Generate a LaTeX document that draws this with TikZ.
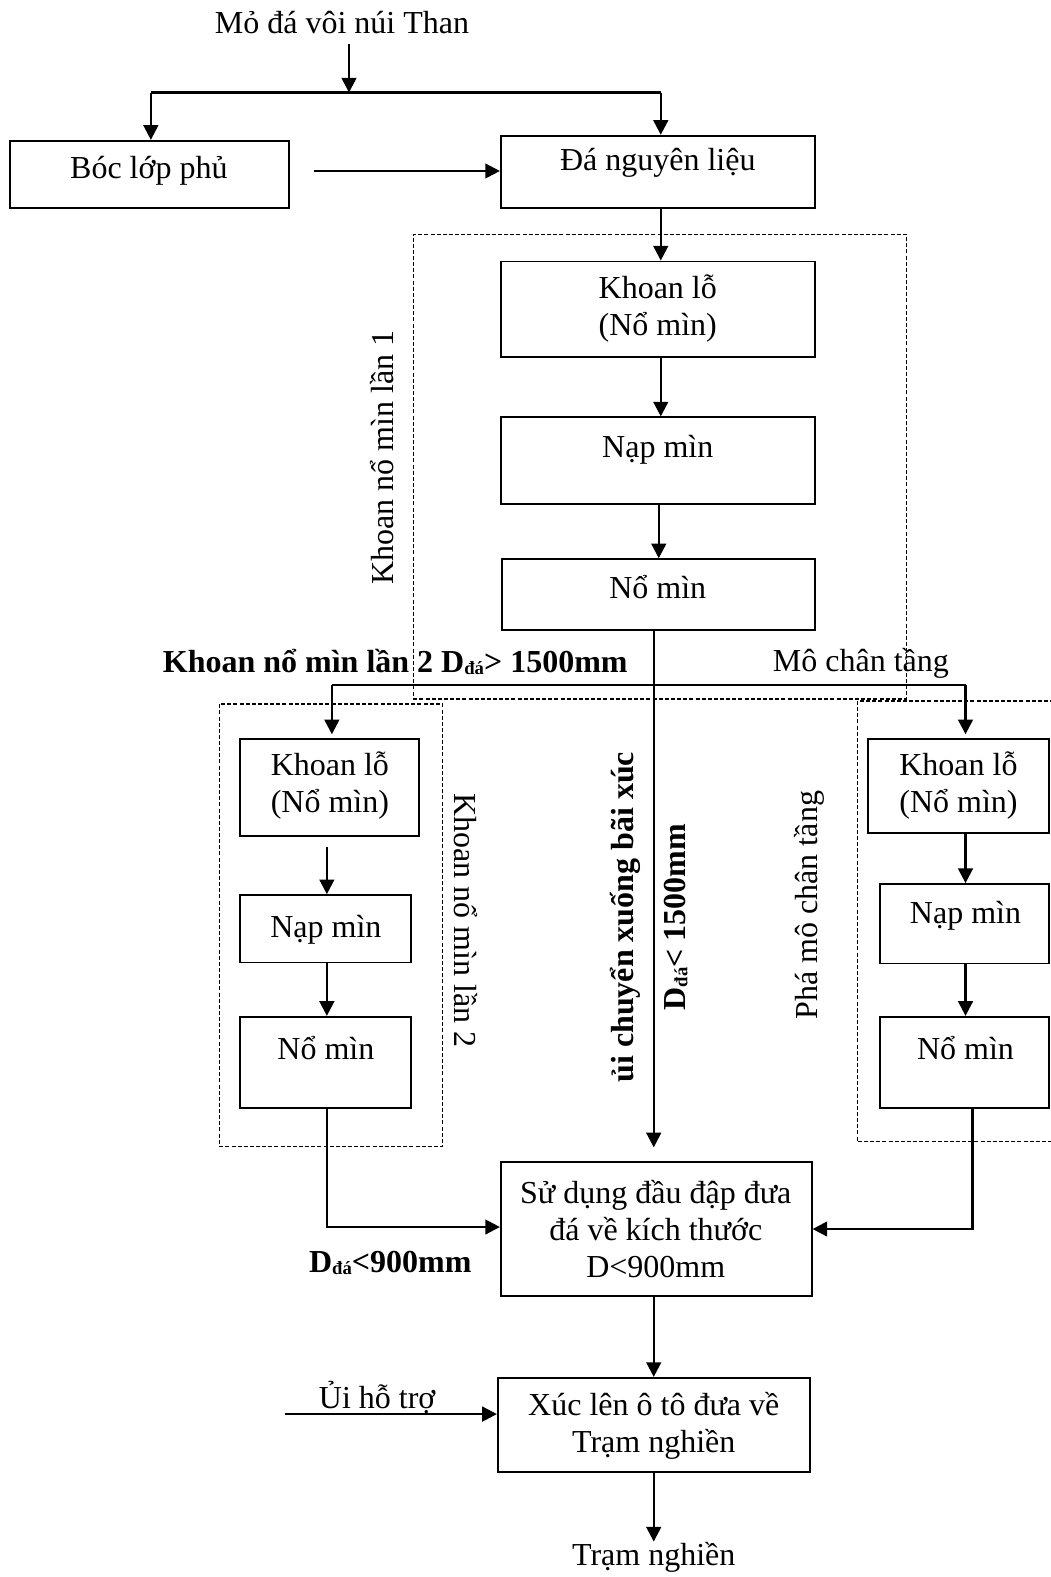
\documentclass[tikz,border=0pt]{standalone}
\usepackage{fontspec}
\setmainfont{Liberation Serif}
\usetikzlibrary{arrows.meta,fit}
\newcommand{\dda}{\raisebox{-1.5pt}{\fontsize{14}{14}\selectfont đá}}
\begin{document}
\begin{tikzpicture}[x=0.7543pt,y=-0.7543pt,
  box/.style={draw,line width=1.4pt,inner sep=0pt},
  dbox/.style={draw,line width=0.8pt,dash pattern=on 3pt off 1.6pt,inner sep=0pt},
  txt/.style={font=\fontsize{24}{27.5}\selectfont,align=center,inner sep=0pt},
  btxt/.style={font=\bfseries\fontsize{24}{27.5}\selectfont,align=center,inner sep=0pt},
  arr/.style={line width=1.8pt,-{Triangle[length=11pt,width=11pt]}},
  ln/.style={line width=1.8pt}]
\useasboundingbox (0,0) rectangle (1045,1568);
\clip (0,0) rectangle (1045,1568);

% boxes
\node[box,fit={(10,140) (287,207)}] (boc) {};
\node[box,fit={(498,135) (810,207)}] (da) {};
\node[box,fit={(498,260) (810,355)}] (k1) {};
\node[box,fit={(498,415) (810,501)}] (n1) {};
\node[box,fit={(499,556) (810,626)}] (m1) {};
\node[box,fit={(239,735) (417,831)}] (k2) {};
\node[box,fit={(239,890) (409,957)}] (n2) {};
\node[box,fit={(239,1011) (409,1102)}] (m2) {};
\node[box,fit={(863,735) (1043,828)}] (k3) {};
\node[box,fit={(875,879) (1043,958)}] (n3) {};
\node[box,fit={(875,1011) (1043,1102)}] (m3) {};
\node[box,fit={(498,1155) (807,1289)}] (sd) {};
\node[box,fit={(495,1370) (805,1464)}] (xuc) {};

% dashed groups
\node[dbox,fit={(411,233) (901,695)}] (db1) {};
\node[dbox,fit={(218,700) (440,1140)}] (db2) {};
\node[dbox,fit={(853,697) (1070,1135)}] (db3) {};

% box texts
\node[txt] (tboc) at (148,170) {Bóc lớp phủ};
\node[txt] (tda) at (654,162) {Đá nguyên liệu};
\node[txt] (tk1) at (654,307) {Khoan lỗ\\(Nổ mìn)};
\node[txt] (tn1) at (654,447) {Nạp mìn};
\node[txt] (tm1) at (654,584) {Nổ mìn};
\node[txt] (tk2) at (328,781) {Khoan lỗ\\(Nổ mìn)};
\node[txt] (tn2) at (324,924) {Nạp mìn};
\node[txt] (tm2) at (324,1042) {Nổ mìn};
\node[txt] (tk3) at (953,781) {Khoan lỗ\\(Nổ mìn)};
\node[txt] (tn3) at (960,911) {Nạp mìn};
\node[txt] (tm3) at (960,1042) {Nổ mìn};
\node[txt] (tsd) at (652,1222) {Sử dụng đầu đập đưa\\đá về kích thước\\D<900mm};
\node[txt] (txuc) at (650,1418) {Xúc lên ô tô đưa về\\Trạm nghiền};

% free texts
\node[txt] (title) at (340,22) {Mỏ đá vôi núi Than};
\node[txt] (tram) at (650,1548) {Trạm nghiền};
\node[txt] (ui) at (375,1390) {Ủi hỗ trợ};
\node[btxt] (lbl2) at (393,658) {Khoan nổ mìn lần 2 D\dda> 1500mm};
\node[txt] (mct) at (856,660) {Mô chân tầng};
\node[btxt] (d900) at (388,1256) {D\dda<900mm};
\node[txt,rotate=90] (v1) at (380,455) {Khoan nổ mìn lần 1};
\node[txt,rotate=-90] (v2) at (463,915) {Khoan nổ mìn lần 2};
\node[txt,rotate=90] (v3) at (805,900) {Phá mô chân tầng};
\node[btxt,rotate=90] (v4) at (622,912) {ủi chuyển xuống bãi xúc};
\node[btxt,rotate=90] (v5) at (672,912) {D\dda< 1500mm};

% coordinates
\coordinate (j1) at (347,92);
\coordinate (hL) at (150,92);
\coordinate (hR) at (657,92);
\coordinate (bs) at (312,170);
\coordinate (c657) at (657,0);
\coordinate (c655) at (655,0);
\coordinate (c650) at (650,0);
\coordinate (bL) at (330,681);
\coordinate (bR) at (960,681);
\coordinate (c325) at (325,0);
\coordinate (c960) at (960,0);
\coordinate (l1) at (325,1220);
\coordinate (r1) at (967,1222);
\coordinate (u1) at (283,1406);

% connectors
\draw[arr] (j1 |- title.south) ++(0,10) -- (j1);
\draw[ln] (hL) -- (hR);
\draw[arr] (hL) -- (boc.north -| hL);
\draw[arr] (hR) -- (da.north -| hR);
\draw[arr] (bs) -- (da.west |- bs);
\draw[arr] (da.south -| c657) -- (k1.north -| c657);
\draw[arr] (k1.south -| c657) -- (n1.north -| c657);
\draw[arr] (n1.south -| c655) -- (m1.north -| c655);
\draw[arr,shorten >=10pt] (m1.south -| c650) -- (sd.north -| c650);
\draw[ln] (bL) -- (bR);
\draw[arr,shorten >=3pt] (bL) -- (k2.north -| bL);
\draw[arr,shorten >=3pt] (bR) -- (k3.north -| bR);
\draw[arr,shorten <=8pt] (k2.south -| c325) -- (n2.north -| c325);
\draw[arr] (n2.south -| c325) -- (m2.north -| c325);
\draw[arr] (k3.south -| c960) -- (n3.north -| c960);
\draw[arr] (n3.south -| c960) -- (m3.north -| c960);
\draw[arr] (m2.south -| l1) -- (l1) -- (sd.west |- l1);
\draw[arr] (m3.south -| r1) -- (r1) -- (sd.east |- r1);
\draw[arr] (sd.south -| c650) -- (xuc.north -| c650);
\draw[arr] (u1) -- (xuc.west |- u1);
\draw[arr] (xuc.south -| c650) -- (tram.north);
\end{tikzpicture}
\end{document}
